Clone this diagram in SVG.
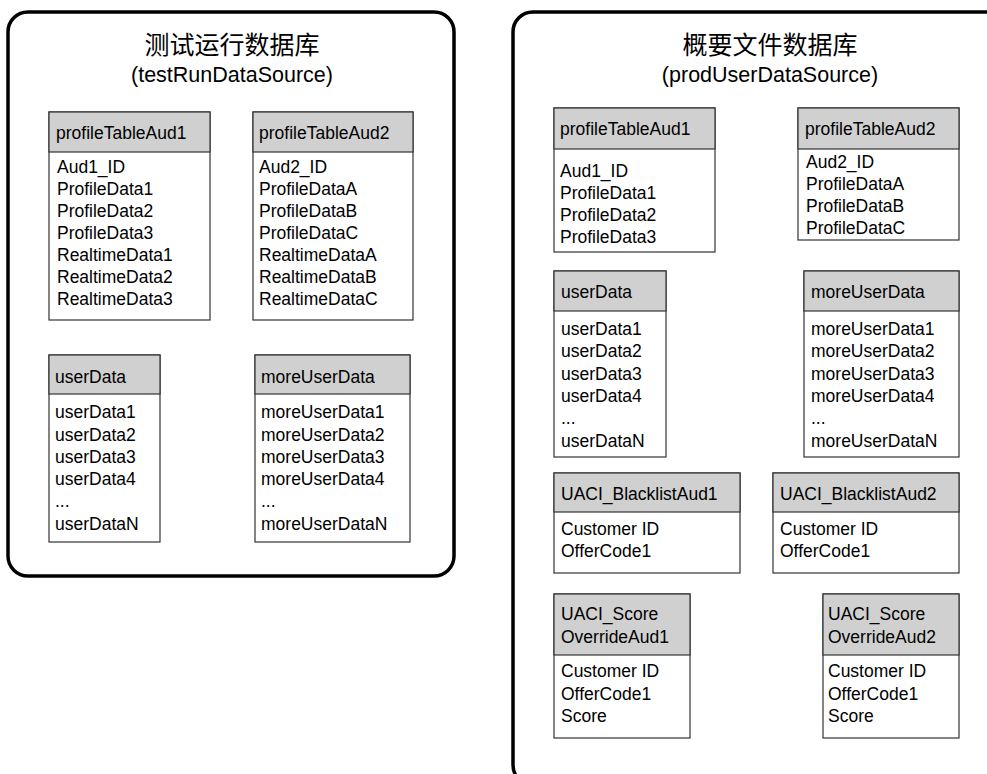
<svg xmlns="http://www.w3.org/2000/svg" width="987" height="774" viewBox="0 0 987 774">
<style>
.bg{fill:#fff}
.db{fill:#fff;stroke:#000;stroke-width:3.5}
.hd{fill:#d0d0d0;stroke:#333;stroke-width:1.2}
.bd{fill:#fff;stroke:#333;stroke-width:1.2}
text{font-family:"Liberation Sans",Arial,"Noto Sans CJK SC",sans-serif;fill:#000}
.t{font-size:17.5px}
.cn{font-size:25px;text-anchor:middle}
.en{font-size:21.5px;text-anchor:middle}
</style>
<rect class="bg" x="0" y="0" width="987" height="774"/>
<g id="testRunDataSource">
<rect class="db" x="8" y="12" width="446" height="564" rx="20"/>
<text class="cn" x="232" y="54" font-family="'Noto Sans CJK SC',sans-serif">测试运行数据库</text>
<text class="en" x="232" y="82">(testRunDataSource)</text>
</g>
<g id="prodUserDataSource">
<rect class="db" x="513" y="12" width="494" height="773" rx="20"/>
<text class="cn" x="770" y="54" font-family="'Noto Sans CJK SC',sans-serif">概要文件数据库</text>
<text class="en" x="770" y="82">(prodUserDataSource)</text>
</g>
<g id="connectors"></g>

<g id="t-profileTableAud1">
<rect class="bd" x="49" y="112" width="161" height="208"/>
<rect class="hd" x="49" y="112" width="161" height="40"/>
<text class="t" x="56" y="139">profileTableAud1</text>
<text class="t"><tspan x="57" y="173">Aud1_ID</tspan><tspan x="57" y="195">ProfileData1</tspan><tspan x="57" y="217">ProfileData2</tspan><tspan x="57" y="239">ProfileData3</tspan><tspan x="57" y="261">RealtimeData1</tspan><tspan x="57" y="283">RealtimeData2</tspan><tspan x="57" y="305">RealtimeData3</tspan></text>
</g>
<g id="t-profileTableAud2">
<rect class="bd" x="253" y="112" width="160" height="208"/>
<rect class="hd" x="253" y="112" width="160" height="40"/>
<text class="t" x="259" y="139">profileTableAud2</text>
<text class="t"><tspan x="259" y="173">Aud2_ID</tspan><tspan x="259" y="195">ProfileDataA</tspan><tspan x="259" y="217">ProfileDataB</tspan><tspan x="259" y="239">ProfileDataC</tspan><tspan x="259" y="261">RealtimeDataA</tspan><tspan x="259" y="283">RealtimeDataB</tspan><tspan x="259" y="305">RealtimeDataC</tspan></text>
</g>
<g id="t-userData">
<rect class="bd" x="49" y="355" width="111" height="187"/>
<rect class="hd" x="49" y="355" width="111" height="39"/>
<text class="t" x="55" y="383">userData</text>
<text class="t"><tspan x="55" y="418">userData1</tspan><tspan x="55" y="441">userData2</tspan><tspan x="55" y="463">userData3</tspan><tspan x="55" y="485">userData4</tspan><tspan x="55" y="507">...</tspan><tspan x="55" y="530">userDataN</tspan></text>
</g>
<g id="t-moreUserData">
<rect class="bd" x="255" y="355" width="155" height="187"/>
<rect class="hd" x="255" y="355" width="155" height="39"/>
<text class="t" x="261" y="383">moreUserData</text>
<text class="t"><tspan x="261" y="418">moreUserData1</tspan><tspan x="261" y="441">moreUserData2</tspan><tspan x="261" y="463">moreUserData3</tspan><tspan x="261" y="485">moreUserData4</tspan><tspan x="261" y="507">...</tspan><tspan x="261" y="530">moreUserDataN</tspan></text>
</g>

<g id="p-profileTableAud1">
<rect class="bd" x="554" y="108" width="161" height="144"/>
<rect class="hd" x="554" y="108" width="161" height="41"/>
<text class="t" x="560" y="135">profileTableAud1</text>
<text class="t"><tspan x="560" y="177">Aud1_ID</tspan><tspan x="560" y="199">ProfileData1</tspan><tspan x="560" y="221">ProfileData2</tspan><tspan x="560" y="243">ProfileData3</tspan></text>
</g>
<g id="p-profileTableAud2">
<rect class="bd" x="798" y="108" width="161" height="132"/>
<rect class="hd" x="798" y="108" width="161" height="41"/>
<text class="t" x="805" y="135">profileTableAud2</text>
<text class="t"><tspan x="806" y="168">Aud2_ID</tspan><tspan x="806" y="190">ProfileDataA</tspan><tspan x="806" y="212">ProfileDataB</tspan><tspan x="806" y="234">ProfileDataC</tspan></text>
</g>
<g id="p-userData">
<rect class="bd" x="554" y="271" width="112" height="186"/>
<rect class="hd" x="554" y="271" width="112" height="40"/>
<text class="t" x="561" y="298">userData</text>
<text class="t"><tspan x="561" y="335">userData1</tspan><tspan x="561" y="357">userData2</tspan><tspan x="561" y="380">userData3</tspan><tspan x="561" y="402">userData4</tspan><tspan x="561" y="424">...</tspan><tspan x="561" y="447">userDataN</tspan></text>
</g>
<g id="p-moreUserData">
<rect class="bd" x="804" y="271" width="155" height="186"/>
<rect class="hd" x="804" y="271" width="155" height="40"/>
<text class="t" x="811" y="298">moreUserData</text>
<text class="t"><tspan x="811" y="335">moreUserData1</tspan><tspan x="811" y="357">moreUserData2</tspan><tspan x="811" y="380">moreUserData3</tspan><tspan x="811" y="402">moreUserData4</tspan><tspan x="811" y="424">...</tspan><tspan x="811" y="447">moreUserDataN</tspan></text>
</g>
<g id="p-UACI_BlacklistAud1">
<rect class="bd" x="554" y="473" width="186" height="100"/>
<rect class="hd" x="554" y="473" width="186" height="39"/>
<text class="t" x="561" y="500">UACI_BlacklistAud1</text>
<text class="t"><tspan x="561" y="535">Customer ID</tspan><tspan x="561" y="557">OfferCode1</tspan></text>
</g>
<g id="p-UACI_BlacklistAud2">
<rect class="bd" x="773" y="473" width="186" height="100"/>
<rect class="hd" x="773" y="473" width="186" height="39"/>
<text class="t" x="780" y="500">UACI_BlacklistAud2</text>
<text class="t"><tspan x="780" y="535">Customer ID</tspan><tspan x="780" y="557">OfferCode1</tspan></text>
</g>
<g id="p-UACI_ScoreOverrideAud1">
<rect class="bd" x="554" y="594" width="136" height="144"/>
<rect class="hd" x="554" y="594" width="136" height="61"/>
<text class="t"><tspan x="561" y="620">UACI_Score</tspan><tspan x="561" y="643">OverrideAud1</tspan></text>
<text class="t"><tspan x="561" y="677">Customer ID</tspan><tspan x="561" y="700">OfferCode1</tspan><tspan x="561" y="722">Score</tspan></text>
</g>
<g id="p-UACI_ScoreOverrideAud2">
<rect class="bd" x="823" y="594" width="136" height="144"/>
<rect class="hd" x="823" y="594" width="136" height="61"/>
<text class="t"><tspan x="828" y="620">UACI_Score</tspan><tspan x="828" y="643">OverrideAud2</tspan></text>
<text class="t"><tspan x="828" y="677">Customer ID</tspan><tspan x="828" y="700">OfferCode1</tspan><tspan x="828" y="722">Score</tspan></text>
</g>
</svg>
